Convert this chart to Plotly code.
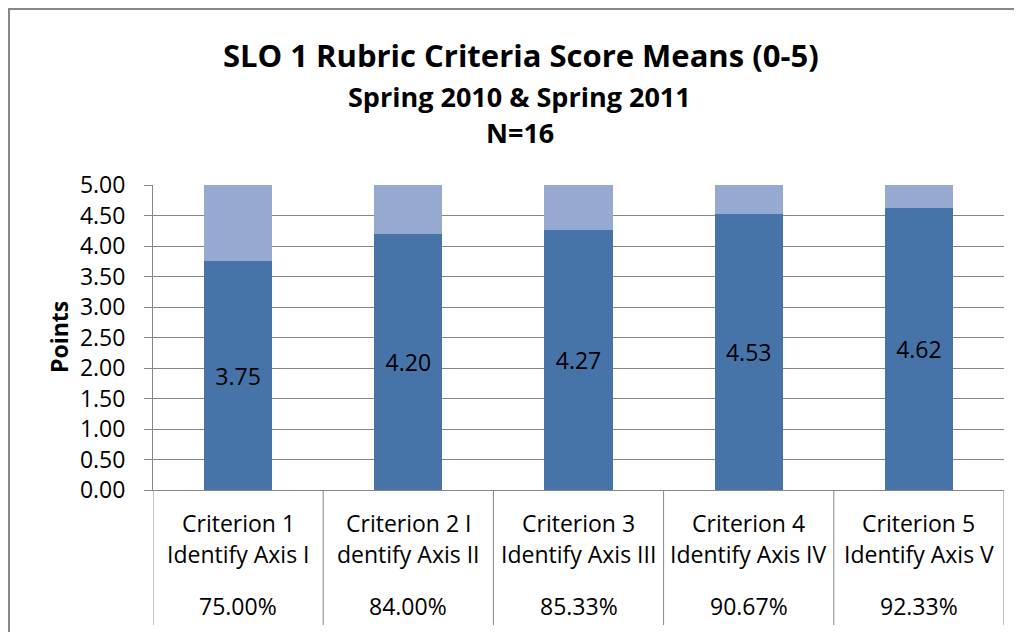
import plotly.graph_objects as go

categories = [
    "Criterion 1<br>Identify Axis I",
    "Criterion 2 I<br>dentify Axis II",
    "Criterion 3<br>Identify Axis III",
    "Criterion 4<br>Identify Axis IV",
    "Criterion 5<br>Identify Axis V",
]
score_means = [3.75, 4.20, 4.27, 4.53, 4.62]
max_score = 5.00
percent_labels = ["75.00%", "84.00%", "85.33%", "90.67%", "92.33%"]
y_ticks = [0.0, 0.5, 1.0, 1.5, 2.0, 2.5, 3.0, 3.5, 4.0, 4.5, 5.0]

FONT = "Open Sans"
GRID = "#868686"
TXT = 23

# page offset of the plotly div (body margin)
OFF = 8
# plot area in page pixels
L, R, T, B = 153, 1004, 185, 490
W, H = R - L, B - T


def px_x(px):
    return (px - L) / W


def px_y(py):
    return (B - py) / H


remainder = [round(max_score - v, 2) for v in score_means]

fig = go.Figure()
fig.add_trace(
    go.Bar(
        x=categories,
        y=score_means,
        width=0.4,
        marker=dict(color="#4673A8", line=dict(width=0)),
        text=[f"{v:.2f}" for v in score_means],
        textposition="inside",
        insidetextanchor="middle",
        textfont=dict(family=FONT, size=TXT, color="black"),
        showlegend=False,
    )
)
fig.add_trace(
    go.Bar(
        x=categories,
        y=remainder,
        width=0.4,
        marker=dict(color="#95A9D1", line=dict(width=0)),
        showlegend=False,
    )
)

annotations = []
for cat, pct in zip(categories, percent_labels):
    line1, line2 = cat.split("<br>")
    for txt, ypx in [(line1, 523), (line2, 554), (pct, 606)]:
        annotations.append(
            dict(x=cat, xref="x", y=px_y(ypx), yref="paper", text=txt,
                 showarrow=False, xanchor="center", yanchor="middle",
                 font=dict(family=FONT, size=TXT, color="black"))
        )

annotations += [
    dict(x=px_x(521), y=px_y(55), xref="paper", yref="paper", showarrow=False,
         xanchor="center", yanchor="middle",
         text="<b>SLO 1 Rubric Criteria Score Means (0-5)</b>",
         font=dict(family=FONT, size=31, color="black")),
    dict(x=px_x(519), y=px_y(96), xref="paper", yref="paper", showarrow=False,
         xanchor="center", yanchor="middle",
         text="<b>Spring 2010 & Spring 2011</b>",
         font=dict(family=FONT, size=27, color="black")),
    dict(x=px_x(520), y=px_y(133), xref="paper", yref="paper", showarrow=False,
         xanchor="center", yanchor="middle",
         text="<b>N=16</b>",
         font=dict(family=FONT, size=27, color="black")),
    dict(x=px_x(59), y=px_y(337), xref="paper", yref="paper", showarrow=False,
         xanchor="center", yanchor="middle",
         text="<b>Points</b>", textangle=-90,
         font=dict(family=FONT, size=TXT, color="black")),
]

shapes = []
# vertical separators of the category table
for i in range(len(categories) + 1):
    shapes.append(
        dict(type="line", xref="x", yref="paper", x0=i - 0.5, x1=i - 0.5,
             y0=0, y1=px_y(625), line=dict(color=GRID, width=1))
    )
# outer chart border
shapes.append(
    dict(type="rect", xref="paper", yref="paper", x0=px_x(9), x1=px_x(1045),
         y0=px_y(650), y1=px_y(9), line=dict(color="#878787", width=2))
)

fig.update_layout(
    width=1022,
    height=632,
    barmode="stack",
    plot_bgcolor="white",
    paper_bgcolor="white",
    margin=dict(l=L - OFF, r=1022 - (R - OFF), t=T - OFF, b=632 - (B - OFF)),
    annotations=annotations,
    shapes=shapes,
    font=dict(family=FONT, color="black"),
)
fig.update_xaxes(
    range=[-0.5, len(categories) - 0.5],
    showticklabels=False,
    showline=True,
    linecolor=GRID,
    showgrid=False,
    ticks="",
)
fig.update_yaxes(
    range=[0, max_score],
    tickvals=y_ticks,
    tickformat=".2f",
    tickfont=dict(family=FONT, size=TXT, color="black"),
    ticklabelstandoff=14,
    showgrid=True,
    gridcolor=GRID,
    gridwidth=1,
    showline=True,
    linecolor=GRID,
    ticks="outside",
    ticklen=8,
    tickcolor=GRID,
    zeroline=False,
)

fig.write_html("out.html")
